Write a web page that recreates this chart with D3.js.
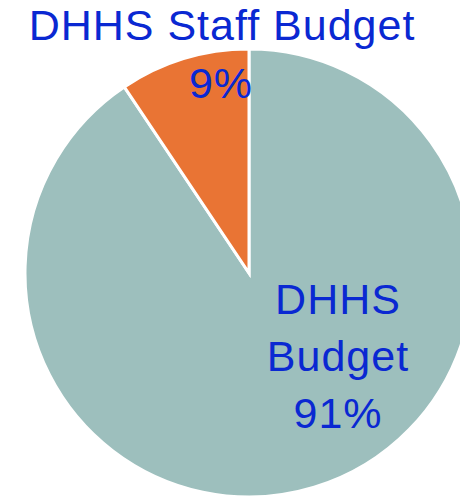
<!DOCTYPE html>
<html>
<head>
<meta charset="utf-8">
<script src="https://cdn.jsdelivr.net/npm/d3@7"></script>
<style>
  body { margin: 0; background: #fff; }
  text { font-family: "Liberation Sans", Arial, sans-serif; fill: #0A28D2; letter-spacing: 1px; }
</style>
</head>
<body>
<div id="chart"></div>
<script>
// Slice data (shares; labels show rounded percent)
const categories = ["DHHS Budget", "DHHS Staff Budget"];
const shares = [90.6, 9.4];
const colors = ["#9DBFBD", "#E97434"];

const width = 460, height = 497;
const cx = 249, cy = 273, radius = 224;

const svg = d3.select("#chart").append("svg")
  .attr("width", width)
  .attr("height", height);

const g = svg.append("g")
  .attr("transform", `translate(${cx},${cy})`);

const pie = d3.pie().sort(null).value(d => d.value);
const arcs = pie(categories.map((c, i) => ({name: c, value: shares[i], color: colors[i]})));

const arc = d3.arc().innerRadius(0).outerRadius(radius);

g.selectAll("path.slice")
  .data(arcs)
  .enter()
  .append("path")
  .attr("class", "slice")
  .attr("d", arc)
  .attr("fill", d => d.data.color)
  .attr("stroke", "#fff")
  .attr("stroke-width", 3)
  .attr("stroke-linejoin", "miter");

const pct = d => Math.round(d.value) + "%";

// Labels
const fs = 43;
// big slice: label inside, lower right
const big = arcs[0];
const bigLbl = g.append("text")
  .attr("text-anchor", "middle")
  .attr("font-size", fs)
  .attr("transform", `translate(89,41)`);
[big.data.name.split(" ")[0], big.data.name.split(" ")[1], pct(big.data)]
  .forEach((t, i) => bigLbl.append("tspan").attr("x", 0).attr("dy", i ? 57 : 0).text(t));

// small slice: name above the pie, percentage in slice
const small = arcs[1];
g.append("text")
  .attr("text-anchor", "middle")
  .attr("font-size", fs)
  .attr("x", -27).attr("y", -233)
  .text(small.data.name);
g.append("text")
  .attr("text-anchor", "middle")
  .attr("font-size", fs)
  .attr("x", -28).attr("y", -175)
  .text(pct(small.data));
</script>
</body>
</html>
